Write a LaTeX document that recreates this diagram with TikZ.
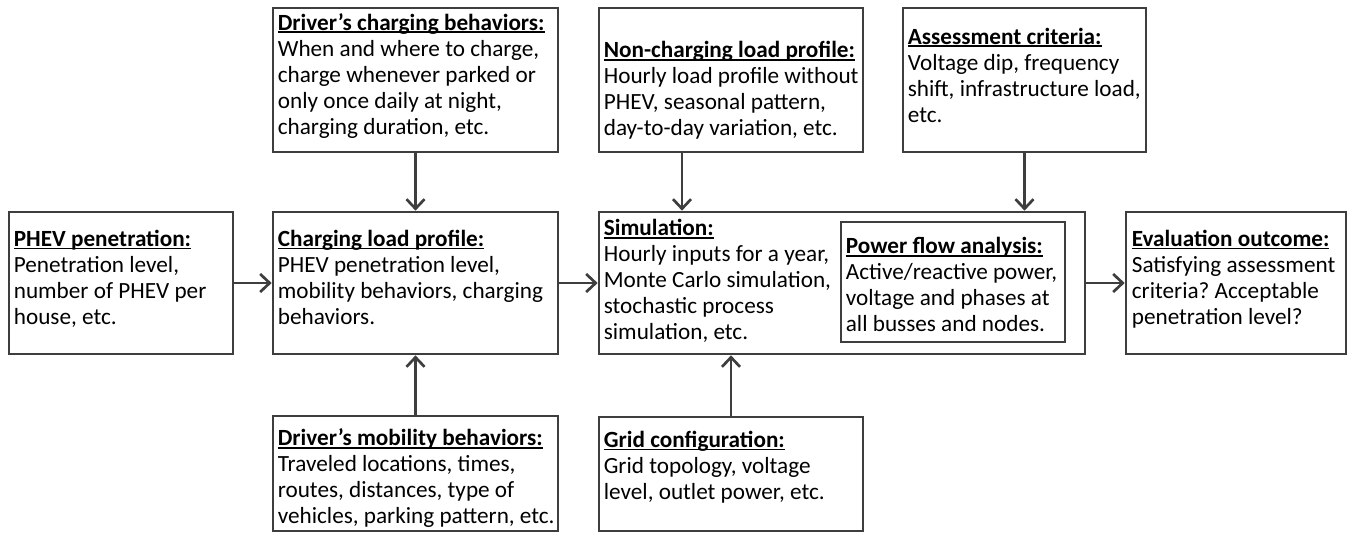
\documentclass[tikz,border=0pt]{standalone}
\usepackage{fontspec}
\setmainfont{Carlito}
\usetikzlibrary{arrows.meta}
\definecolor{linegray}{HTML}{3E3E3E}
\frenchspacing
% bold heading with a low underline that ignores descenders
\newcommand\hd[1]{\setbox0\hbox{\bfseries #1}\rlap{\rule[-3pt]{\wd0}{1.7pt}}\box0}
\tikzset{
  box/.style={draw=linegray, line width=2.7pt, rectangle, inner sep=0pt},
  txt/.style={anchor=north west, inner sep=0pt, align=left,
    font=\fontsize{23.2}{26}\selectfont},
  conn/.style={draw=linegray, line width=2.7pt,
    -{Straight Barb[length=9.5pt,width=18pt]}}
}
\begin{document}
\begin{tikzpicture}[x=1pt, y=-1pt]
\useasboundingbox (0,0) rectangle (1351,536);

% boxes
\node[box, minimum width=224pt, minimum height=142pt] (phev)   at (121,283)   {};
\node[box, minimum width=285pt, minimum height=142pt] (charge) at (415.5,283) {};
\node[box, minimum width=285pt, minimum height=144pt] (drvchg) at (415.5,80)  {};
\node[box, minimum width=285pt, minimum height=115pt] (mob)    at (415.5,473.5) {};
\node[box, minimum width=264pt, minimum height=144pt] (nonchg) at (731,80)    {};
\node[box, minimum width=243pt, minimum height=144pt] (assess) at (1024.5,80) {};
\node[box, minimum width=486pt, minimum height=142pt] (sim)    at (842,283)   {};
\node[box, minimum width=224pt, minimum height=120pt] (pfa)    at (953,282)   {};
\node[box, minimum width=220pt, minimum height=142pt] (evalo)  at (1236,283)  {};
\node[box, minimum width=264pt, minimum height=114pt] (grid)   at (731,474)   {};

% texts
\node[txt] (drvchg-t) at ([shift={(6,5)}]drvchg.north west)
  {\strut\hd{Driver’s charging behaviors:}\\When and where to charge,\\charge whenever parked or\\only once daily at night,\\charging duration, etc.};
\node[txt] (nonchg-t) at ([shift={(6,32.5)}]nonchg.north west)
  {\strut\hd{Non-charging load profile:}\\Hourly load profile without\\PHEV, seasonal pattern,\\day-to-day variation, etc.};
\node[txt] (assess-t) at ([shift={(6,19)}]assess.north west)
  {\strut\hd{Assessment criteria:}\\Voltage dip, frequency\\shift, infrastructure load,\\etc.};
\node[txt] (phev-t) at ([shift={(6,17.3)}]phev.north west)
  {\strut\hd{PHEV penetration:}\\Penetration level,\\number of PHEV per\\house, etc.};
\node[txt] (charge-t) at ([shift={(6,17.3)}]charge.north west)
  {\strut\hd{Charging load profile:}\\PHEV penetration level,\\mobility behaviors, charging\\behaviors.};
\node[txt] (sim-t) at ([shift={(6,6.5)}]sim.north west)
  {\strut\hd{Simulation:}\\Hourly inputs for a year,\\Monte Carlo simulation,\\stochastic process\\simulation, etc.};
\node[txt] (pfa-t) at ([shift={(6,14.8)}]pfa.north west)
  {\strut\hd{Power flow analysis:}\\Active/reactive power,\\voltage and phases at\\all busses and nodes.};
\node[txt] (evalo-t) at ([shift={(7,17.3)}]evalo.north west)
  {\strut\hd{Evaluation outcome:}\\Satisfying assessment\\criteria? Acceptable\\penetration level?};
\node[txt] (mob-t) at ([shift={(6,12.8)}]mob.north west)
  {\strut\hd{Driver’s mobility behaviors:}\\Traveled locations, times,\\routes, distances, type of\\vehicles, parking pattern, etc.};
\node[txt] (grid-t) at ([shift={(6,13.3)}]grid.north west)
  {\strut\hd{Grid configuration:}\\Grid topology, voltage\\level, outlet power, etc.};

% connectors
\coordinate (nc) at (682,0);
\draw[conn] (phev.east) -- (charge.west);
\draw[conn] (charge.east) -- (sim.west);
\draw[conn] (sim.east) -- (evalo.west);
\draw[conn] (drvchg.south) -- (charge.north);
\draw[conn] (mob.north) -- (charge.south);
\draw[conn] (nonchg.south -| nc) -- (sim.north -| nc);
\draw[conn] (assess.south) -- (sim.north -| assess.south);
\draw[conn] (grid.north) -- (sim.south -| grid.north);
\end{tikzpicture}
\end{document}
